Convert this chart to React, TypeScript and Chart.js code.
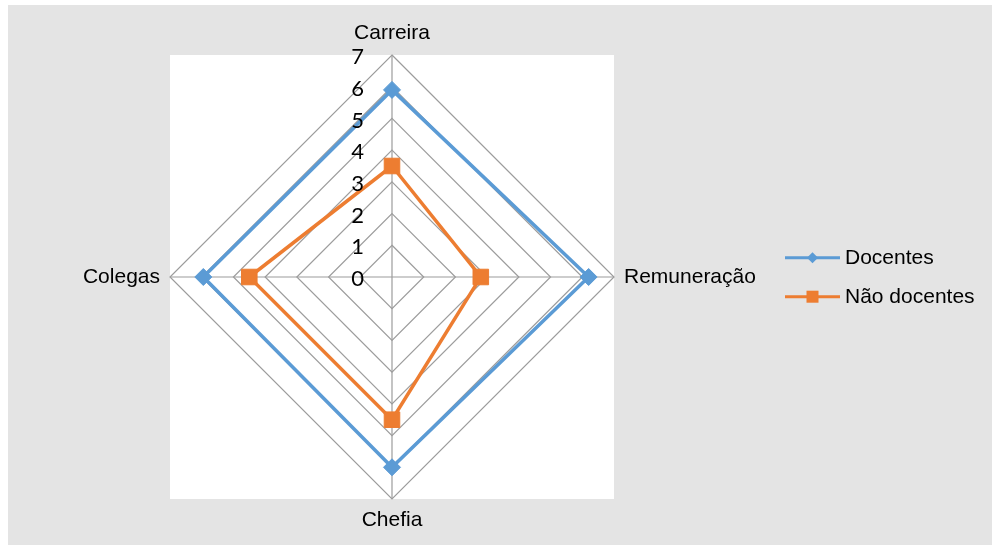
import React, { useEffect, useRef } from "react";
import { Chart, registerables } from "chart.js";

Chart.register(...registerables);

// Satisfaction dimensions (clockwise from the top)
const categories = ["Carreira", "Remuneração", "Chefia", "Colegas"];
const seriesNames = ["Docentes", "Não docentes"];
const docentes = [5.9, 6.2, 6.0, 5.95];
const naoDocentes = [3.5, 2.8, 4.5, 4.5];
const tickLabels = ["0", "1", "2", "3", "4", "5", "6", "7"];
const seriesColors = ["#5b9bd5", "#ed7d31"];

const W = 984;
const H = 540;
const LABEL_FONT = "21px 'Liberation Sans', Arial, sans-serif";
const TICK_FONT = "22px Lato, 'Open Sans', sans-serif";
const GRID_COLOR = "#9c9c9c";

const decorPlugin = {
  id: "decor",
  beforeDraw(chart: any) {
    const s = chart.scales.r;
    const ctx = chart.ctx as CanvasRenderingContext2D;
    ctx.save();
    ctx.fillStyle = "#ffffff";
    ctx.fillRect(
      s.xCenter - s.drawingArea,
      s.yCenter - s.drawingArea,
      2 * s.drawingArea,
      2 * s.drawingArea
    );
    ctx.restore();
  },
  afterDraw(chart: any) {
    const s = chart.scales.r;
    const ctx = chart.ctx as CanvasRenderingContext2D;
    ctx.save();

    // radial tick labels, left of the vertical axis
    ctx.font = TICK_FONT;
    ctx.fillStyle = "#000";
    ctx.textAlign = "right";
    ctx.textBaseline = "middle";
    tickLabels.forEach((t) => {
      const p = s.getPointPositionForValue(0, Number(t));
      ctx.fillText(t, p.x - 28, p.y + 2);
    });

    // category labels around the web
    ctx.font = LABEL_FONT;
    categories.forEach((c, i) => {
      let gap = 22;
      let align: CanvasTextAlign = "center";
      if (i === 1) {
        gap = 10;
        align = "left";
      } else if (i === 3) {
        gap = 10;
        align = "right";
      } else if (i === 2) {
        gap = 21;
      }
      const p = s.getPointPosition(i, s.drawingArea + gap);
      ctx.textAlign = align;
      ctx.fillText(c, p.x, p.y);
    });

    // legend
    const lx = 777;
    const ly = [252.7, 291.7];
    seriesNames.forEach((name, k) => {
      const y = ly[k];
      const col = seriesColors[k];
      ctx.strokeStyle = col;
      ctx.lineWidth = 3;
      ctx.beginPath();
      ctx.moveTo(lx, y);
      ctx.lineTo(lx + 55, y);
      ctx.stroke();
      ctx.fillStyle = col;
      const mx = lx + 27.5;
      if (k === 0) {
        ctx.beginPath();
        ctx.moveTo(mx, y - 5.5);
        ctx.lineTo(mx + 5.5, y);
        ctx.lineTo(mx, y + 5.5);
        ctx.lineTo(mx - 5.5, y);
        ctx.closePath();
        ctx.fill();
      } else {
        ctx.fillRect(mx - 6, y - 6, 12, 12);
      }
      ctx.fillStyle = "#000";
      ctx.textAlign = "left";
      ctx.textBaseline = "middle";
      ctx.fillText(name, lx + 60, y + 1);
    });

    ctx.restore();
  },
};

export default function App() {
  const ref = useRef<HTMLCanvasElement>(null);

  useEffect(() => {
    if (!ref.current) return;
    const chart = new Chart(ref.current, {
      type: "radar",
      data: {
        labels: categories,
        datasets: [
          {
            label: seriesNames[0],
            data: docentes,
            borderColor: seriesColors[0],
            backgroundColor: seriesColors[0],
            borderWidth: 3.5,
            fill: false,
            pointStyle: "rectRot",
            pointRadius: 8.5,
            pointBackgroundColor: seriesColors[0],
            pointBorderColor: seriesColors[0],
            pointBorderWidth: 1,
          },
          {
            label: seriesNames[1],
            data: naoDocentes,
            borderColor: seriesColors[1],
            backgroundColor: seriesColors[1],
            borderWidth: 3.5,
            fill: false,
            pointStyle: "rect",
            pointRadius: 11,
            pointBackgroundColor: seriesColors[1],
            pointBorderColor: seriesColors[1],
            pointBorderWidth: 1,
          },
        ],
      },
      options: {
        animation: false,
        responsive: false,
        layout: { padding: { left: 162, top: 50, right: 378, bottom: 46 } },
        plugins: {
          legend: { display: false },
          tooltip: { enabled: false },
        },
        elements: { line: { tension: 0 } },
        scales: {
          r: {
            min: 0,
            max: 7,
            beginAtZero: true,
            ticks: { display: false, stepSize: 1 },
            pointLabels: { display: false },
            grid: { color: GRID_COLOR, lineWidth: 1.2 },
            angleLines: { color: GRID_COLOR, lineWidth: 1.2 },
          },
        },
      },
      plugins: [decorPlugin],
    });
    return () => chart.destroy();
  }, []);

  return (
    <div
      style={{
        position: "absolute",
        left: 8,
        top: 5,
        width: W,
        height: H,
        background: "#e4e4e4",
      }}
    >
      <canvas ref={ref} width={W} height={H} style={{ display: "block" }} />
    </div>
  );
}
